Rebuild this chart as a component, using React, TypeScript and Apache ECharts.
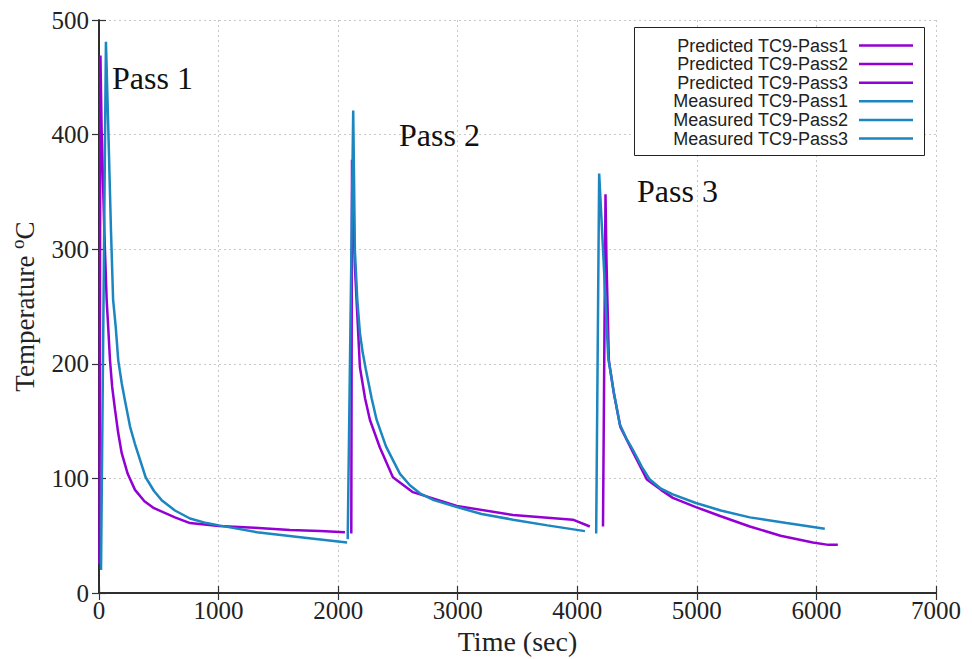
import React, { useEffect, useRef } from "react";
import * as echarts from "echarts";

// ---- data (time in sec, temperature in °C) ----
const predP1T = [4, 12, 22, 44, 64, 78, 92, 110, 134, 160, 190, 240, 301, 380, 460, 635, 761, 1003, 1300, 1597, 1850, 2057];
const predP1V = [25, 469, 404, 317, 256, 230, 203, 180, 160, 140, 122, 104, 90, 80, 74, 66, 61, 58.5, 57, 55, 54, 53];

const predP2T = [2110, 2116, 2140, 2182, 2225, 2266, 2349, 2458, 2625, 2993, 3462, 3963, 4105];
const predP2V = [52, 378, 285, 197, 170, 151, 127, 101, 88, 76, 68, 64, 58];

const predP3T = [4215, 4236, 4244, 4264, 4306, 4360, 4470, 4582, 4700, 4799, 4992, 5200, 5443, 5700, 5970, 6100, 6179];
const predP3V = [58, 348, 291, 203, 174, 145, 122, 99, 90, 83, 75, 67, 58, 50, 44, 42, 42];

const measP1T = [17, 58, 78, 100, 118, 140, 161, 190, 217, 260, 301, 390, 460, 524, 635, 761, 900, 1003, 1321, 1739, 2075];
const measP1V = [20, 481, 404, 317, 256, 232, 203, 183, 168, 145, 130, 101, 89, 81, 72, 65, 61, 59, 53, 48, 44];

const measP2T = [2080, 2126, 2140, 2160, 2182, 2205, 2230, 2280, 2322, 2400, 2517, 2600, 2684, 2800, 2993, 3200, 3462, 3750, 4064];
const measP2V = [47, 421, 299, 256, 227, 210, 196, 170, 151, 128, 104, 94, 87, 81, 75, 69, 64, 59, 54];

const measP3T = [4158, 4183, 4220, 4259, 4306, 4356, 4410, 4465, 4540, 4607, 4700, 4799, 4992, 5200, 5443, 5750, 6070];
const measP3V = [52, 366, 290, 205, 175, 147, 135, 125, 110, 99, 91, 86, 78.5, 72, 66, 61, 56];

const seriesNames = [
  "Predicted TC9-Pass1",
  "Predicted TC9-Pass2",
  "Predicted TC9-Pass3",
  "Measured TC9-Pass1",
  "Measured TC9-Pass2",
  "Measured TC9-Pass3",
];
const seriesT = [predP1T, predP2T, predP3T, measP1T, measP2T, measP3T];
const seriesV = [predP1V, predP2V, predP3V, measP1V, measP2V, measP3V];

const xTicks = [0, 7000, 1000];
const yTicks = [0, 500, 100];

const passLabels = ["Pass 1", "Pass 2", "Pass 3"];

const PURPLE = "#9400d3";
const BLUE = "#1b86bf";
const colors = [PURPLE, PURPLE, PURPLE, BLUE, BLUE, BLUE];

export default function App() {
  const ref = useRef<HTMLDivElement>(null);
  useEffect(() => {
    if (!ref.current) return;
    const chart = echarts.init(ref.current, null, { renderer: "svg" });
    const serif = "'Liberation Serif', 'DejaVu Serif', serif";
    const sans = "'Liberation Sans', Arial, sans-serif";
    const tickLabel = { fontFamily: serif, fontSize: 25, color: "#222", formatter: (v: number) => String(v) };

    const series = seriesNames.map((name, i) => ({
      name,
      type: "line",
      xAxisIndex: 0,
      yAxisIndex: 0,
      data: seriesT[i].map((t, j) => [t, seriesV[i][j]]),
      showSymbol: false,
      symbol: "none",
      lineStyle: { color: colors[i], width: 2.5 },
      z: i < 3 ? 2 : 3,
    }));

    // legend drawn as graphic
    const legendEls: any[] = [
      {
        type: "rect",
        shape: { x: 634.5, y: 27.5, width: 290, height: 128 },
        style: { fill: "#fff", stroke: "#222", lineWidth: 1 },
        z: 10,
      },
    ];
    seriesNames.forEach((name, i) => {
      const cy = 45.5 + i * 18.6;
      legendEls.push({
        type: "text",
        x: 848,
        y: cy,
        style: {
          text: name,
          fontFamily: sans,
          fontSize: 18,
          fill: "#222",
          align: "right",
          verticalAlign: "middle",
        },
        z: 11,
      });
      legendEls.push({
        type: "line",
        shape: { x1: 859, y1: cy, x2: 913, y2: cy },
        style: { stroke: colors[i], lineWidth: 2.5 },
        z: 11,
      });
    });

    const passPos = [
      [112, 78],
      [399, 135],
      [637, 191],
    ];
    const passEls = passLabels.map((p, i) => ({
      type: "text",
      x: passPos[i][0],
      y: passPos[i][1],
      style: {
        text: p,
        fontFamily: serif,
        fontSize: 32,
        fill: "#111",
        align: "left",
        verticalAlign: "middle",
      },
      z: 10,
    }));

    const axisLine = { show: true, lineStyle: { color: "#222", width: 1.5 } };
    const axisTick = { show: true, inside: true, length: 7, lineStyle: { color: "#333", width: 1.2 } };
    const splitLine = { show: true, lineStyle: { color: "#c8c8c8", type: [2, 3], width: 1 } };

    chart.setOption({
      animation: false,
      backgroundColor: "#fff",
      grid: { left: 99, right: 36, top: 20, bottom: 66, containLabel: false, outerBoundsMode: "none" },
      xAxis: [
        {
          type: "value",
          min: xTicks[0],
          max: xTicks[1],
          interval: xTicks[2],
          position: "bottom",
          name: "Time (sec)",
          nameLocation: "middle",
          nameGap: 30,
          nameTextStyle: { fontFamily: serif, fontSize: 28, color: "#222" },
          axisLine,
          axisTick,
          axisLabel: { ...tickLabel, margin: 5 },
          splitLine,
        },
        {
          type: "value",
          min: xTicks[0],
          max: xTicks[1],
          interval: xTicks[2],
          position: "top",
          axisLine,
          axisTick,
          axisLabel: { show: false },
          splitLine: { show: false },
        },
      ],
      yAxis: [
        {
          type: "value",
          min: yTicks[0],
          max: yTicks[1],
          interval: yTicks[2],
          position: "left",
          name: "Temperature {sup|o}C",
          nameLocation: "middle",
          nameGap: 58,
          nameTextStyle: {
            fontFamily: serif,
            fontSize: 27,
            color: "#222",
            rich: {
              sup: { fontFamily: serif, fontSize: 19, color: "#222", verticalAlign: "bottom", padding: [0, 0, 14, 0] },
            },
          },
          axisLine,
          axisTick,
          axisLabel: { ...tickLabel, margin: 10 },
          splitLine,
        },
        {
          type: "value",
          min: yTicks[0],
          max: yTicks[1],
          interval: yTicks[2],
          position: "right",
          axisLine,
          axisTick,
          axisLabel: { show: false },
          splitLine: { show: false },
        },
      ],
      series,
      graphic: [...passEls, ...legendEls],
    });
    return () => chart.dispose();
  }, []);
  return <div ref={ref} style={{ position: "absolute", left: 0, top: 0, width: 972, height: 659 }} />;
}
